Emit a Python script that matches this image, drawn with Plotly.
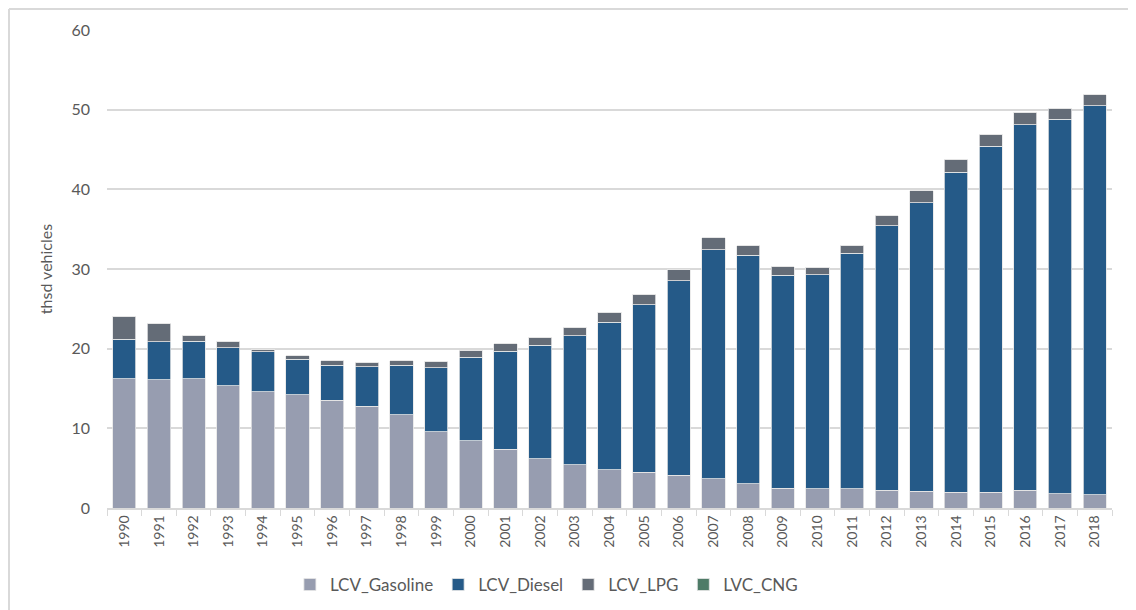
import plotly.graph_objects as go

years = [str(y) for y in range(1990, 2019)]

gasoline = [16.2, 16.1, 16.2, 15.35, 14.6, 14.2, 13.5, 12.8, 11.7, 9.6,
            8.45, 7.4, 6.2, 5.4, 4.8, 4.5, 4.1, 3.65, 3.05, 2.5,
            2.4, 2.4, 2.25, 2.1, 2.0, 2.0, 2.25, 1.8, 1.67]
diesel = [5.0, 4.8, 4.75, 4.75, 5.0, 4.45, 4.45, 4.9, 6.25, 8.0,
          10.45, 12.3, 14.2, 16.2, 18.5, 21.0, 24.4, 28.75, 28.7, 26.7,
          26.9, 29.6, 33.15, 36.2, 40.15, 43.4, 45.85, 47.0, 48.83]
lpg = [2.85, 2.2, 0.75, 0.85, 0.35, 0.45, 0.55, 0.6, 0.55, 0.8,
       0.9, 0.9, 1.05, 1.1, 1.25, 1.3, 1.4, 1.55, 1.15, 1.1,
       0.9, 0.9, 1.3, 1.55, 1.65, 1.5, 1.6, 1.4, 1.4]
cng = [0.0] * 29

series = [
    ('LCV_Gasoline', gasoline, '#979db0'),
    ('LCV_Diesel', diesel, '#255a88'),
    ('LCV_LPG', lpg, '#646c77'),
    ('LVC_CNG', cng, '#4e7b67'),
]

fig = go.Figure()
for name, vals, col in series:
    fig.add_trace(go.Bar(x=years, y=vals, name=name,
                         marker=dict(color=col, line=dict(color='#e6e6e6', width=0.8))))

font = 'Lato, Open Sans, sans-serif'

# page body adds an 8px margin, so the figure is 8px smaller than the window
fig.update_layout(
    barmode='stack',
    bargap=0.33,
    width=1128, height=602,
    margin=dict(l=99, r=24, t=22, b=102, autoexpand=False),
    paper_bgcolor='white', plot_bgcolor='white',
    font=dict(family=font, color='#595959', size=14),
    showlegend=True,
    legend=dict(orientation='h', x=0.182, xanchor='left', y=-0.161, yanchor='middle',
                font=dict(size=17, color='#595959'), itemwidth=30,
                traceorder='normal'),
    xaxis=dict(tickangle=-90, tickfont=dict(size=14), showgrid=False, automargin=False,
               showline=True, linecolor='#d9d9d9', linewidth=1.5,
               ticks='outside', tickson='boundaries', ticklen=6, tickcolor='#d9d9d9'),
    yaxis=dict(range=[0, 60], dtick=10, showgrid=True, gridcolor='#d9d9d9', gridwidth=1.5,
               zeroline=False, ticks='', tickfont=dict(size=16), automargin=False,
               ticklabelstandoff=16,
               title=dict(text='thsd vehicles', font=dict(size=16), standoff=14)),
)

# chart area frame (left, top, right edges)
fig.add_shape(type='line', xref='paper', yref='paper', x0=-0.0975, x1=-0.0975, y0=-0.22, y1=1.044,
              line=dict(color='#d9d9d9', width=2))
fig.add_shape(type='line', xref='paper', yref='paper', x0=-0.0975, x1=1.023, y0=1.044, y1=1.044,
              line=dict(color='#d9d9d9', width=2))
fig.add_shape(type='line', xref='paper', yref='paper', x0=1.023, x1=1.023, y0=-0.22, y1=1.044,
              line=dict(color='#f0f0f0', width=1))

fig.write_html('out.html')
